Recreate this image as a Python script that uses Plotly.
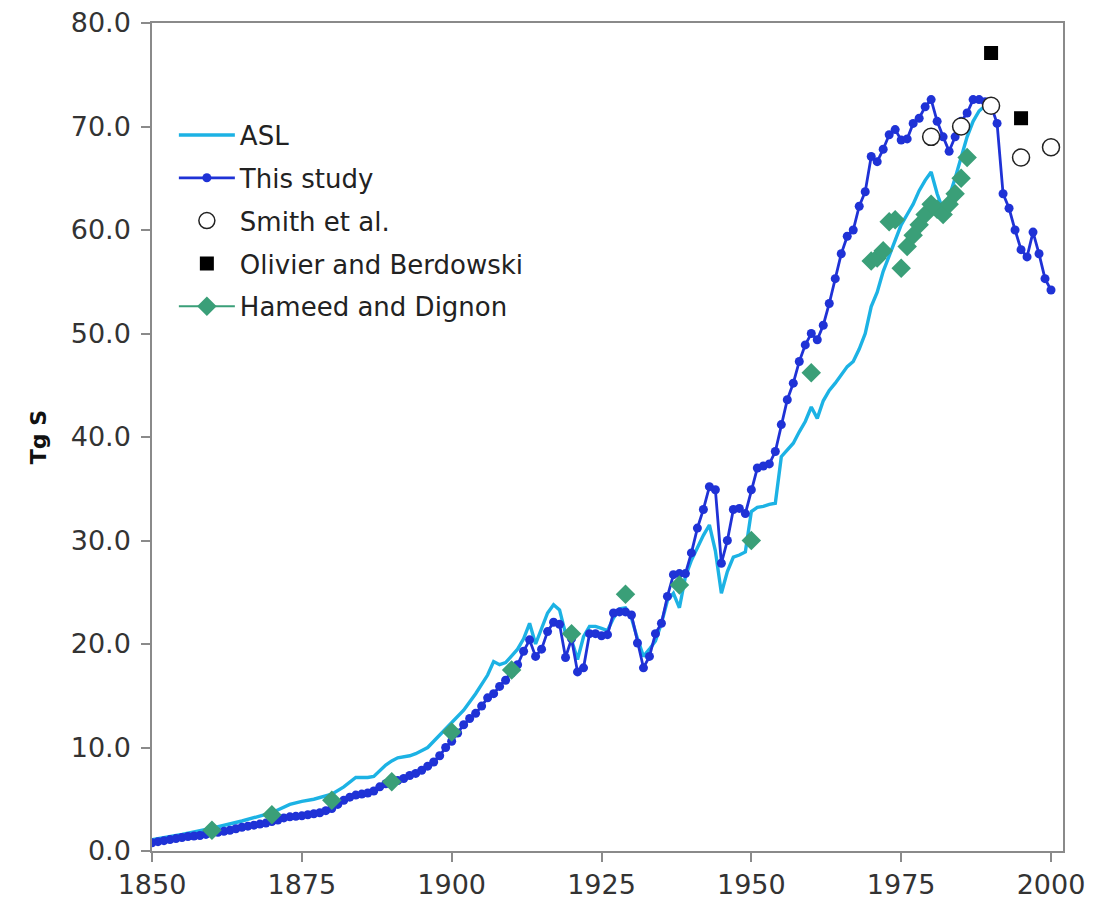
import plotly.graph_objects as go

# ---------------- data ----------------
study_years = list(range(1850, 2001))
study_values = [
    0.8, 0.9, 1.0, 1.1, 1.2, 1.3, 1.4, 1.45, 1.5, 1.6,
    1.7, 1.8, 1.9, 2.0, 2.15, 2.3, 2.4, 2.5, 2.6, 2.7,
    2.85, 3.0, 3.2, 3.3, 3.35, 3.4, 3.5, 3.6, 3.7, 3.9,
    4.1, 4.5, 4.9, 5.2, 5.4, 5.5, 5.6, 5.8, 6.2, 6.5,
    6.8, 6.8, 7.0, 7.3, 7.5, 7.8, 8.2, 8.6, 9.2, 10.0,
    10.6, 11.4, 12.2, 12.8, 13.3, 14.0, 14.8, 15.2, 15.9, 16.5,
    17.2, 18.0, 19.3, 20.4, 18.8, 19.5, 21.2, 22.1, 21.9, 18.7,
    20.5, 17.3, 17.7, 21.0, 21.0, 20.8, 20.9, 23.0, 23.1, 23.1,
    22.8, 20.1, 17.7, 18.8, 21.0, 22.0, 24.6, 26.7, 26.8, 26.8,
    28.8, 31.2, 33.0, 35.2, 34.9, 27.8, 30.0, 33.0, 33.1, 32.6,
    34.9, 37.0, 37.2, 37.4, 38.6, 41.2, 43.6, 45.2, 47.3, 48.9,
    50.0, 49.4, 50.8, 52.9, 55.3, 57.7, 59.4, 60.0, 62.3, 63.7,
    67.1, 66.6, 67.8, 69.2, 69.7, 68.7, 68.8, 70.3, 70.8, 71.9,
    72.6, 70.5, 69.0, 67.6, 69.0, 70.5, 71.3, 72.6, 72.6, 72.4,
    72.0, 70.3, 63.5, 62.1, 60.0, 58.1, 57.4, 59.8, 57.7, 55.3, 54.2,
]

asl_years = [
    1850, 1855, 1860, 1865, 1870, 1873, 1875, 1877, 1880, 1882, 1884, 1886, 1887,
    1889, 1890, 1891, 1893, 1894, 1896, 1898, 1900, 1902, 1904, 1906, 1907, 1908,
    1909, 1910, 1911, 1912, 1913, 1914, 1915, 1916, 1917, 1918, 1919, 1920, 1921,
    1922, 1923, 1924, 1925, 1926, 1927, 1928, 1929, 1930, 1931, 1932, 1933, 1934,
    1935, 1936, 1937, 1938, 1939, 1940, 1941, 1942, 1943, 1944, 1945, 1946, 1947,
    1948, 1949, 1950, 1951, 1952, 1953, 1954, 1955, 1956, 1957, 1958, 1959, 1960,
    1961, 1962, 1963, 1964, 1965, 1966, 1967, 1968, 1969, 1970, 1971, 1972, 1973,
    1974, 1975, 1976, 1977, 1978, 1979, 1980, 1981, 1982, 1983, 1984, 1985, 1986,
    1987, 1988, 1989, 1990,
]
asl_values = [
    1.1, 1.6, 2.2, 2.9, 3.7, 4.5, 4.8, 5.0, 5.5, 6.2, 7.1, 7.1, 7.2,
    8.3, 8.7, 9.0, 9.2, 9.4, 10.0, 11.2, 12.4, 13.6, 15.2, 17.0, 18.3, 18.0,
    18.2, 18.8, 19.5, 20.5, 22.0, 20.0, 21.5, 23.0, 23.8, 23.3, 21.0, 20.4, 18.5,
    20.7, 21.7, 21.7, 21.5, 21.3, 22.5, 23.4, 23.5, 22.5, 20.5, 18.8, 19.5, 20.3,
    22.0, 24.2, 24.9, 23.5, 26.5, 28.1, 29.3, 30.5, 31.5, 29.0, 24.9, 27.0, 28.4,
    28.6, 28.9, 32.8, 33.2, 33.3, 33.5, 33.6, 38.1, 38.8, 39.4, 40.5, 41.5, 42.9,
    41.8, 43.5, 44.5, 45.2, 46.0, 46.8, 47.3, 48.5, 50.0, 52.6, 54.0, 56.0, 57.5,
    59.0, 60.5, 61.5, 62.5, 63.8, 64.8, 65.6, 63.5, 61.9, 63.2, 65.0, 67.0, 69.0,
    70.5, 71.5, 72.0, 72.2,
]

smith_years = [1980, 1985, 1990, 1995, 2000]
smith_values = [69.0, 70.0, 72.0, 67.0, 68.0]

olivier_years = [1990, 1995]
olivier_values = [77.1, 70.8]

hameed_years = [1860, 1870, 1880, 1890, 1900, 1910, 1920, 1929, 1938, 1950, 1960,
                1970, 1971, 1972, 1973, 1974, 1975, 1976, 1977, 1978, 1979, 1980,
                1981, 1982, 1983, 1984, 1985, 1986]
hameed_values = [2.0, 3.5, 4.9, 6.7, 11.5, 17.5, 21.0, 24.8, 25.7, 30.0, 46.2,
                 57.0, 57.3, 58.0, 60.8, 61.0, 56.3, 58.4, 59.5, 60.5, 61.5, 62.5,
                 62.0, 61.5, 62.5, 63.5, 65.0, 67.0]

y_ticks = [0, 10, 20, 30, 40, 50, 60, 70, 80]
x_ticks = [1850, 1875, 1900, 1925, 1950, 1975, 2000]

# ---------------- styles ----------------
FONT = "DejaVu Sans"
C_ASL = "#1cb2e4"
C_STUDY = "#1f32d6"
C_GREEN = "#3a9f78"

fig = go.Figure()

fig.add_trace(go.Scatter(
    x=asl_years, y=asl_values, mode="lines", name="ASL",
    line=dict(color=C_ASL, width=3.4), legendgroup="a",
))
fig.add_trace(go.Scatter(
    x=study_years, y=study_values, mode="lines+markers", name="This study",
    line=dict(color=C_STUDY, width=2.8),
    marker=dict(color=C_STUDY, size=9, symbol="circle"), legendgroup="b",
))
fig.add_trace(go.Scatter(
    x=smith_years, y=smith_values, mode="markers", name="Smith et al.",
    marker=dict(color="white", size=17, symbol="circle",
                line=dict(color="#222222", width=1.5)), legendgroup="c",
))
fig.add_trace(go.Scatter(
    x=olivier_years, y=olivier_values, mode="markers", name="Olivier and Berdowski",
    marker=dict(color="black", size=14, symbol="square"), legendgroup="d",
))
# legend entry (line + diamond) for Hameed and Dignon
fig.add_trace(go.Scatter(
    x=[None], y=[None], mode="lines+markers", name="Hameed and Dignon",
    line=dict(color=C_GREEN, width=2),
    marker=dict(color=C_GREEN, size=15, symbol="diamond"), legendgroup="e",
))
fig.add_trace(go.Scatter(
    x=hameed_years, y=hameed_values, mode="markers", name="Hameed and Dignon",
    marker=dict(color=C_GREEN, size=15, symbol="diamond"),
    legendgroup="e", showlegend=False,
))

axis_common = dict(
    showgrid=False, zeroline=False, showline=True, linecolor="#8a8a8a",
    linewidth=1.5, mirror=True, ticks="outside", ticklen=9, tickcolor="#8a8a8a",
    tickwidth=1.5, tickfont=dict(family=FONT, size=27, color="#333333"),
    automargin=False, ticklabeloverflow="allow",
)

# page body has an 8px margin -> figure is drawn 8px in from the window edge
fig.update_layout(
    width=1086, height=895,
    margin=dict(l=144, r=31, t=15, b=52),
    paper_bgcolor="white", plot_bgcolor="white",
    font=dict(family=FONT, color="#222222"),
    xaxis=dict(range=[1850, 2002], tickvals=x_ticks, **axis_common),
    yaxis=dict(range=[0, 80], tickvals=y_ticks, tickformat=".1f",
               ticklabelstandoff=5,
               title=dict(text="<b>Tg S</b>", font=dict(family=FONT, size=22, color="#111111"),
                          standoff=18),
               **axis_common),
    legend=dict(
        x=0.024, y=0.893, xanchor="left", yanchor="top",
        bgcolor="rgba(0,0,0,0)", font=dict(family=FONT, size=26, color="#222222"),
        tracegroupgap=6, itemwidth=56,
    ),
)

fig.write_html("out.html")
